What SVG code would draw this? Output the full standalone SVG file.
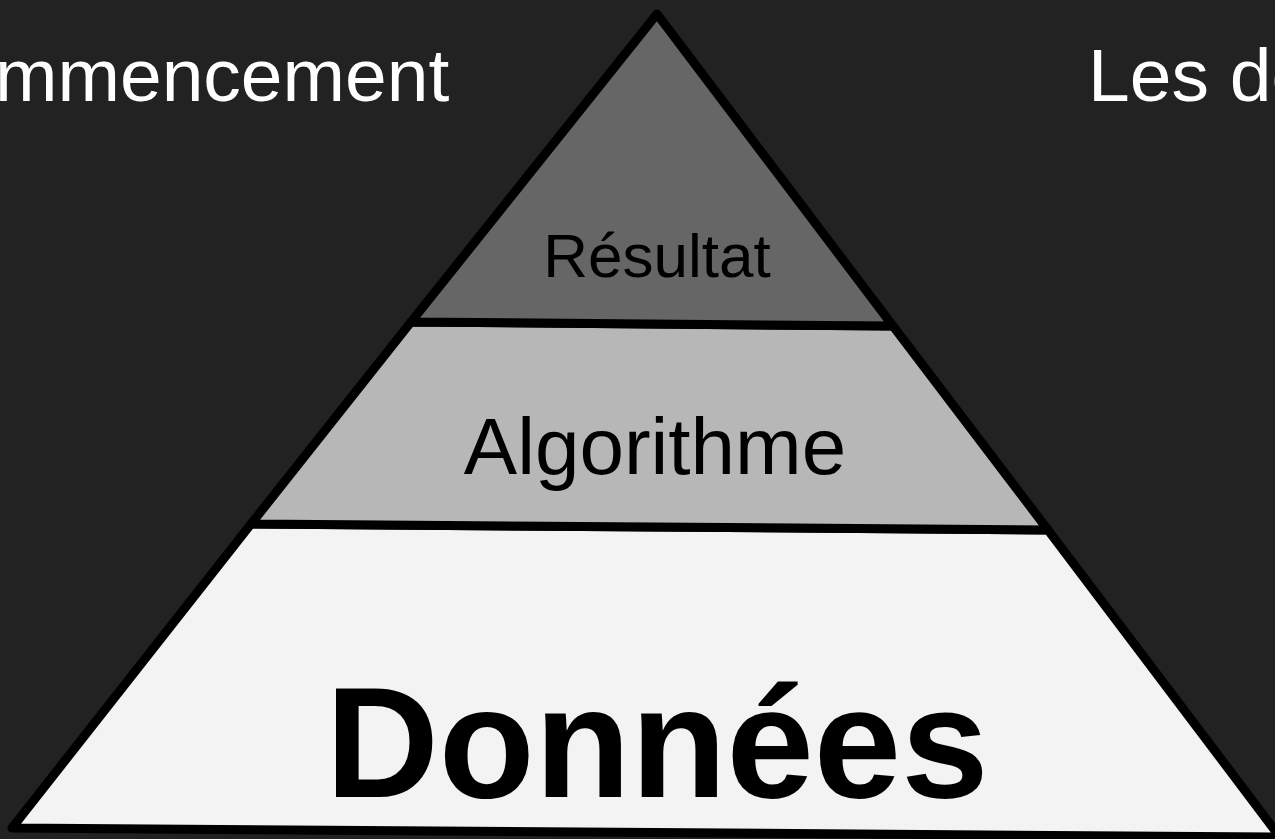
<svg xmlns="http://www.w3.org/2000/svg" width="1275" height="839" viewBox="0 0 1275 839">
<style>
.tier{stroke:#000;stroke-width:9;stroke-linejoin:round}
.t{font-family:"Liberation Sans",Arial,sans-serif;fill:#000;text-anchor:middle}
.w{font-family:"Liberation Sans",Arial,sans-serif;fill:#fff;font-size:75px}
</style>
<rect width="1275" height="839" fill="#222222"/>
<text class="w" x="-5" y="101">mmencement</text>
<text class="w" x="1088" y="101">Les do</text>
<g id="donnees">
<polygon class="tier" fill="#f3f3f3" points="251,524 1048,530 1280,837 12,828"/>
<text class="t" x="657" y="797" font-size="157" font-weight="bold">Données</text>
</g>
<g id="algorithme">
<polygon class="tier" fill="#b7b7b7" points="411,322 893,326 1048,530 251,524"/>
<text class="t" x="655" y="474" font-size="80">Algorithme</text>
</g>
<g id="resultat">
<polygon class="tier" fill="#666666" points="657,14 893,326 411,322"/>
<text class="t" x="657" y="277" font-size="62">Résultat</text>
</g>
<g id="connectors"/>
</svg>
